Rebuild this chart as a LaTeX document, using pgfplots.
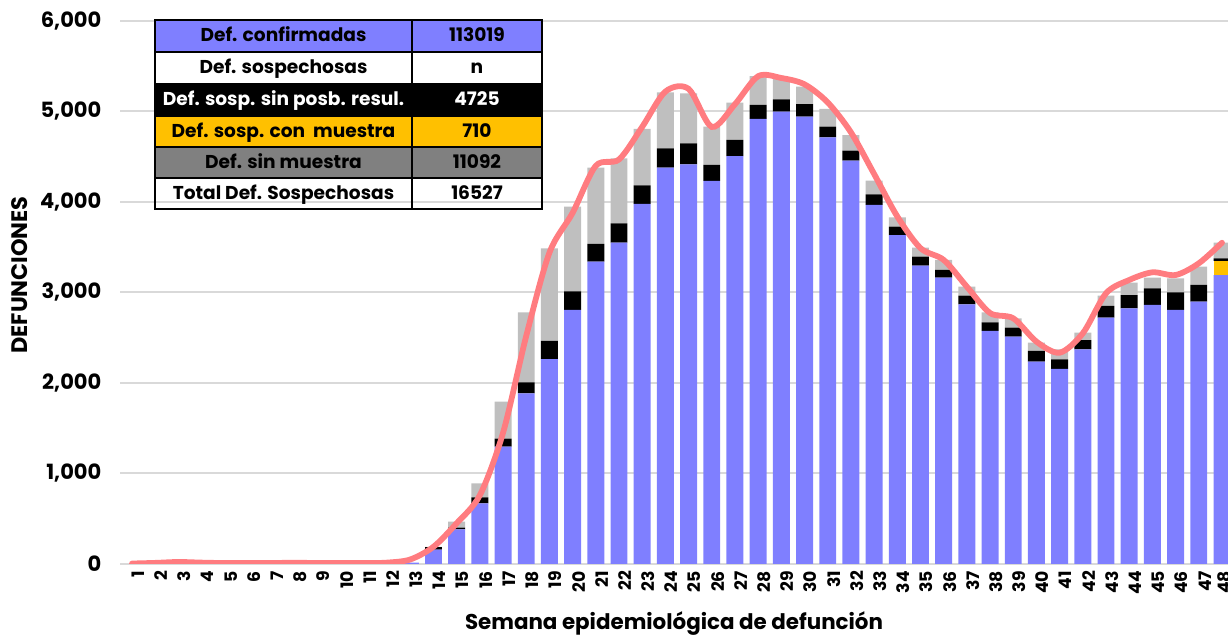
\documentclass[border=0pt]{standalone}
\usepackage{pgfplots}
\pgfplotsset{compat=1.18}
\usepackage{fontspec}
\setmainfont{Poppins}
\definecolor{conf}{HTML}{7F7FFF}
\definecolor{yel}{HTML}{FFC000}
\definecolor{lgray}{HTML}{BFBFBF}
\definecolor{dgray}{HTML}{808080}
\definecolor{salmon}{HTML}{FF7C80}
\definecolor{grid}{HTML}{D9D9D9}
\pgfplotstableread{
wk blue yel blk gry
1 0 0 0 0
2 0 0 0 0
3 0 0 0 0
4 0 0 0 0
5 0 0 0 0
6 0 0 0 0
7 0 0 0 0
8 0 0 0 0
9 0 0 0 0
10 0 0 0 0
11 0 0 0 0
12 0 0 0 0
13 15 0 0 0
14 160 0 25 5
15 383 0 18 67
16 670 0 67 154
17 1296 0 89 409
18 1886 0 122 773
19 2265 0 199 1024
20 2807 0 206 935
21 3341 0 195 843
22 3550 0 214 719
23 3978 0 206 623
24 4379 0 214 619
25 4416 0 232 553
26 4232 0 177 423
27 4508 0 177 412
28 4917 0 155 318
29 4998 0 137 245
30 4943 0 137 194
31 4714 0 118 196
32 4457 0 110 173
33 3967 0 118 150
34 3635 0 92 104
35 3296 0 100 99
36 3164 0 85 110
37 2870 0 95 99
38 2575 0 96 110
39 2512 0 99 104
40 2235 0 119 91
41 2155 0 107 110
42 2372 0 103 81
43 2722 0 129 114
44 2825 0 147 136
45 2862 0 184 118
46 2807 0 195 155
47 2899 0 184 202
48 3193 155 30 172
}\bars
\pgfplotstableread{
wk tot
1 5
2 12
3 22
4 15
5 10
6 10
7 10
8 14
9 10
10 10
11 10
12 15
13 50
14 190
15 450
16 760
17 1450
18 2520
19 3440
20 3880
21 4400
22 4470
23 4830
24 5220
25 5250
26 4830
27 5080
28 5390
29 5370
30 5300
31 5100
32 4770
33 4310
34 3840
35 3490
36 3360
37 3064
38 2773
39 2715
40 2457
41 2335
42 2549
43 2991
44 3138
45 3223
46 3193
47 3322
48 3550
}\line
\begin{document}
\begin{tikzpicture}
\path[use as bounding box] (0,0) rectangle (614pt,317.5pt);
\pgfplotsset{
  base/.style={
    at={(60.2pt,35.5pt)}, anchor=south west,
    scale only axis, width=553.8pt, height=271.5pt,
    xmin=0.5, xmax=48.26, ymin=0, ymax=6000,
    major tick length=0,
    xtick={1,...,48},
    ytick={0,1000,...,6000},
  }
}
\begin{axis}[base,
  ybar stacked, bar width=0.73,
  ymajorgrids, grid style={draw=grid, line width=1pt},
  axis x line*=bottom,
  separate axis lines,
  y axis line style={draw=none},
  x axis line style={draw=grid, line width=1pt},
  scaled y ticks=false,
  yticklabel style={font=\bfseries\fontsize{10.5}{12}\selectfont, xshift=-6pt},
  /pgf/number format/assume math mode=true,
  /pgf/number format/1000 sep={,},
  xticklabel={\ifnum\ticknum=47 \raisebox{3.5pt}{48}\else\pgfmathprintnumber{\tick}\fi},
  xticklabel style={font=\bfseries\fontsize{8.6}{10}\selectfont, rotate=90, anchor=east, yshift=-3pt},
]
\addplot[fill=conf, draw=none] table[x=wk,y=blue]{\bars};
\addplot[fill=yel, draw=none] table[x=wk,y=yel]{\bars};
\addplot[fill=black, draw=none] table[x=wk,y=blk]{\bars};
\addplot[fill=lgray, draw=none] table[x=wk,y=gry]{\bars};
\end{axis}
\begin{axis}[base, axis lines=none, ticks=none]
\addplot[salmon, line width=2.9pt, smooth, mark=none, line cap=round] table[x=wk,y=tot]{\line};
\end{axis}
\begin{scope}[x=0.5pt, y=-0.5pt, shift={(0pt,317.5pt)}]
\fill[conf] (155,20) rectangle (542,52);
\fill[black] (155,84) rectangle (542,116);
\fill[yel] (155,116) rectangle (542,147);
\fill[dgray] (155,147) rectangle (542,178);
\foreach \yy in {52,84,116,147,178} \draw[line width=0.6pt] (155,\yy) -- (542,\yy);
\draw[line width=0.6pt] (412,20) -- (412,209);
\draw[line width=0.8pt] (155,20) rectangle (542,209);
\begin{scope}[every node/.style={font=\bfseries\fontsize{9.3}{11}\selectfont, inner sep=0pt, anchor=base}]
\node at (283.5,42) {Def. confirmadas};
\node at (477,42) {113019};
\node at (283.5,74) {Def. sospechosas};
\node at (477,74) {n};
\node[text=white] at (283.5,106) {Def. sosp. sin posb. resul.};
\node[text=white] at (477,106) {4725};
\node at (283.5,137.5) {Def. sosp. con\ \ muestra};
\node at (477,137.5) {710};
\node at (283.5,168.5) {Def. sin muestra};
\node at (477,168.5) {11092};
\node at (283.5,199.5) {Total Def. Sospechosas};
\node at (477,199.5) {16527};
\end{scope}
\node[font=\bfseries\fontsize{10.7}{12}\selectfont] at (674,624) {Semana epidemiológica de defunción};
\node[font=\bfseries\fontsize{11.2}{12}\selectfont, rotate=90] at (20,275) {DEFUNCIONES};
\end{scope}
\end{tikzpicture}
\end{document}
